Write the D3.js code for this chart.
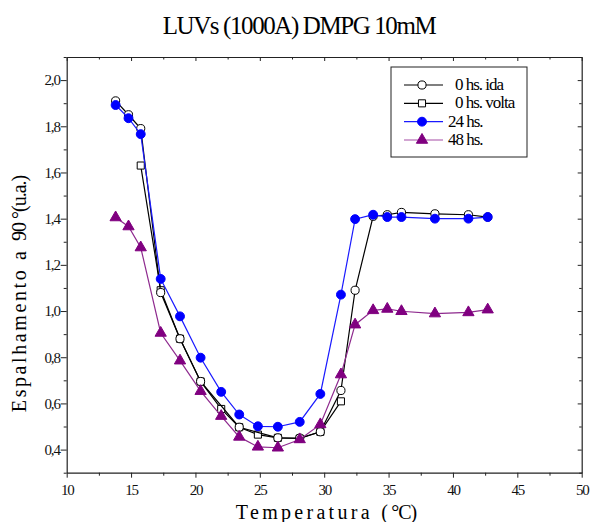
<!DOCTYPE html>
<html>
<head>
<meta charset="utf-8">
<script src="https://cdn.jsdelivr.net/npm/d3@7"></script>
<style>
	body { margin: 0; background: #fff; }
	svg { display: block; font-family: "Liberation Serif", "DejaVu Serif", serif; }
</style>
</head>
<body>
<svg id="chart" width="592" height="522"></svg>
<script>
// temperatures (°C) shared by all series
var temps = [13.8, 14.8, 15.75, 17.3, 18.8, 20.4, 22.0, 23.4, 24.85, 26.4, 28.1, 29.7, 31.3, 32.4, 33.8, 34.9, 36.0, 38.6, 41.2, 42.7];

// series values (null = no point)
var ida   = [1.91, 1.85, 1.79, 1.08, 0.88, 0.695, null, 0.497, null, 0.451, 0.45, 0.477, 0.656, 1.09, 1.41, 1.417, 1.427, 1.421, 1.417, 1.407];
var volta = [null, null, 1.63, 1.09, 0.88, 0.695, 0.576, 0.497, 0.465, 0.451, 0.448, 0.477, 0.609, null, null, null, null, null, null, null];
var h24   = [1.892, 1.835, 1.766, 1.139, 0.977, 0.798, 0.650, 0.552, 0.501, 0.499, 0.520, 0.641, 1.071, 1.398, 1.417, 1.407, 1.407, 1.400, 1.400, 1.407];
var h48   = [1.405, 1.366, 1.275, 0.905, 0.785, 0.653, 0.545, 0.455, 0.412, 0.408, 0.444, 0.509, 0.725, 0.941, 1.003, 1.009, 0.999, 0.989, 0.994, 1.006];

var xTicks = [10, 15, 20, 25, 30, 35, 40, 45, 50];
var yTicks = [0.4, 0.6, 0.8, 1.0, 1.2, 1.4, 1.6, 1.8, 2.0];
var seriesNames = ['0 hs. ida', '0 hs. volta', '24 hs.', '48 hs.'];

var svg = d3.select('#chart');
var pLeft = 66.7, pRight = 581.7, pTop = 57, pBottom = 472.7;

var x = d3.scaleLinear().domain([10, 50]).range([pLeft, pRight]);
var y = d3.scaleLinear().domain([0.3, 2.1]).range([pBottom, pTop]);

// title
svg.append('text')
	.attr('x', 299).attr('y', 34)
	.attr('text-anchor', 'middle')
	.style('font-size', '25px')
	.style('letter-spacing', '-1.4px')
	.text('LUVs (1000A) DMPG 10mM');

// minor tick values
var xMinor = d3.range(12.5, 50, 5);
var yMinor = d3.range(0.3, 2.1001, 0.2).map(function(v) { return +v.toFixed(1); });

// bottom axis
var gx = svg.append('g')
	.attr('transform', 'translate(0,' + pBottom + ')')
	.call(d3.axisBottom(x).tickValues(xTicks).tickSize(5).tickSizeOuter(0).tickFormat(d3.format('d')));
gx.append('g').call(d3.axisBottom(x).tickValues(xMinor).tickSize(3).tickFormat(''))
	.select('.domain').remove();

// top axis (ticks inward)
var gt = svg.append('g')
	.attr('transform', 'translate(0,' + pTop + ')')
	.call(d3.axisTop(x).tickValues(xTicks).tickSize(-4).tickSizeOuter(0).tickFormat(''));
gt.append('g').call(d3.axisTop(x).tickValues(xMinor).tickSize(-2.5).tickFormat(''))
	.select('.domain').remove();

// left axis
var gy = svg.append('g')
	.attr('transform', 'translate(' + pLeft + ',0)')
	.call(d3.axisLeft(y).tickValues(yTicks).tickSize(6).tickSizeOuter(0).tickFormat(function(d) { return d3.format('.1f')(d).replace('.', ','); }));
gy.append('g').call(d3.axisLeft(y).tickValues(yMinor).tickSize(3).tickFormat(''))
	.select('.domain').remove();

// right axis (ticks inward)
var gr = svg.append('g')
	.attr('transform', 'translate(' + pRight + ',0)')
	.call(d3.axisRight(y).tickValues(yTicks).tickSize(-4).tickSizeOuter(0).tickFormat(''));
gr.append('g').call(d3.axisRight(y).tickValues(yMinor).tickSize(-2.5).tickFormat(''))
	.select('.domain').remove();

svg.selectAll('.domain').attr('stroke', '#222').attr('stroke-width', 1.2);
svg.selectAll('.tick line').attr('stroke', '#222');
svg.selectAll('.tick text')
	.style('font-family', '"Liberation Serif", serif')
	.style('font-size', '15px')
	.style('letter-spacing', '-1.2px')
	.attr('fill', '#111');
gx.selectAll('.tick text').attr('dy', '0.95em');
gy.selectAll('.tick text').attr('x', -7);

// axis labels
var xl = svg.append('text')
	.attr('x', 326).attr('y', 519)
	.attr('text-anchor', 'middle')
	.style('font-size', '20px');
xl.append('tspan').style('letter-spacing', '3.3px').text('Temperatura (');
xl.append('tspan').style('letter-spacing', '-1px').text('°C)');

var yl = svg.append('text')
	.attr('transform', 'translate(26,294) rotate(-90)')
	.attr('text-anchor', 'middle')
	.style('font-size', '20px');
yl.append('tspan').style('letter-spacing', '2.6px').text('Espalhamento a ');
yl.append('tspan').style('letter-spacing', '-1px').text('90 °(u.a.)');

// series setup
var series = [
	{name: seriesNames[0], values: ida,   line: '#000', fill: '#fff', stroke: '#000', shape: 'circle', size: 52},
	{name: seriesNames[1], values: volta, line: '#000', fill: '#fff', stroke: '#000', shape: 'square', size: 50},
	{name: seriesNames[2], values: h24,   line: '#1a1aff', fill: '#0000ff', stroke: '#0000ff', shape: 'circle', size: 62},
	{name: seriesNames[3], values: h48,   line: '#8e2a8e', fill: '#800080', stroke: '#800080', shape: 'triangle', size: 55}
];

var symbolType = { circle: d3.symbolCircle, square: d3.symbolSquare, triangle: d3.symbolTriangle };

var valueLine = d3.line()
	.x(function(d) { return x(d.t); })
	.y(function(d) { return y(d.v); });

// draw volta first so ida circles sit over it
[1, 0, 2, 3].forEach(function(i) {
	var s = series[i];
	var pts = temps.map(function(t, j) { return {t: t, v: s.values[j]}; })
		.filter(function(d) { return d.v !== null; });
	var g = svg.append('g');
	g.append('path')
		.attr('d', valueLine(pts))
		.attr('fill', 'none')
		.attr('stroke', s.line)
		.attr('stroke-width', 1.2);
	g.selectAll('path.pt').data(pts).enter().append('path')
		.attr('class', 'pt')
		.attr('transform', function(d) { return 'translate(' + x(d.t) + ',' + y(d.v) + ')'; })
		.attr('d', d3.symbol().type(symbolType[s.shape]).size(s.size))
		.attr('fill', s.fill)
		.attr('stroke', s.stroke)
		.attr('stroke-width', 1);
});

// legend
var lg = svg.append('g');
lg.append('rect')
	.attr('x', 391).attr('y', 67).attr('width', 136).attr('height', 90)
	.attr('fill', '#fff').attr('stroke', '#222').attr('stroke-width', 1);

var legendY = d3.scalePoint().domain(seriesNames).range([85, 140]);

series.forEach(function(s, i) {
	var yy = legendY(s.name);
	lg.append('line')
		.attr('x1', 404).attr('x2', 443).attr('y1', yy).attr('y2', yy)
		.attr('stroke', i === 3 ? '#a64ca6' : s.line).attr('stroke-width', 1.2);
	lg.append('path')
		.attr('transform', 'translate(422,' + yy + ')')
		.attr('d', d3.symbol().type(symbolType[s.shape]).size(s.size))
		.attr('fill', s.fill).attr('stroke', s.stroke);
	lg.append('text')
		.attr('x', i < 2 ? 455 : 448).attr('y', yy + 5)
		.style('font-size', '17px')
		.style('letter-spacing', '-1px')
		.text(s.name);
});
</script>
</body>
</html>
